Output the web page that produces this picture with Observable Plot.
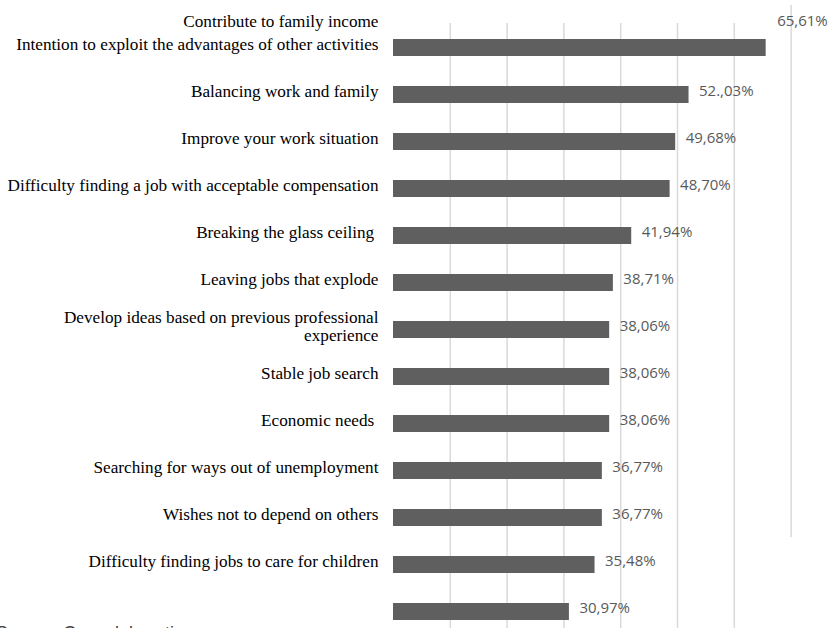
<!DOCTYPE html>
<html>
<head>
<meta charset="utf-8">
<script src="https://cdn.jsdelivr.net/npm/d3@7"></script>
<script src="https://cdn.jsdelivr.net/npm/@observablehq/plot@0.6"></script>
<style>
  html, body { margin: 0; padding: 0; background: #fff; overflow: hidden; width: 832px; height: 628px; }
  #chart { position: absolute; left: 0; top: 0; }
  #source { position: absolute; left: -4px; top: 624px; font-family: "Liberation Sans", sans-serif; font-size: 18px; line-height: 18px; color: #404040; white-space: nowrap; }
</style>
</head>
<body>
<div id="chart"></div>
<div id="source">Source: Own elaboration</div>
<script>
const categories = [
  "Contribute to family income",
  "Intention to exploit the advantages of other activities",
  "Balancing work and family",
  "Improve your work situation",
  "Difficulty finding a job with acceptable compensation",
  "Breaking the glass ceiling\u00a0",
  "Leaving jobs that explode",
  "Develop ideas based on previous professional\nexperience",
  "Stable job search",
  "Economic needs\u00a0",
  "Searching for ways out of unemployment",
  "Wishes not to depend on others",
  "Difficulty finding jobs to care for children"
];
const values = [65.61, 52.03, 49.68, 48.70, 41.94, 38.71, 38.06, 38.06, 38.06, 36.77, 36.77, 35.48, 30.97];
const valueLabels = ["65,61%", "52.,03%", "49,68%", "48,70%", "41,94%", "38,71%", "38,06%", "38,06%", "38,06%", "36,77%", "36,77%", "35,48%", "30,97%"];
const gridTicks = [10, 20, 30, 40, 50, 60, 70];

const rows = categories.map((c, i) => ({category: c, value: values[i], label: valueLabels[i]}));

const labelFont = {fontFamily: "Liberation Serif", fontSize: 17.2, fill: "#000", textAnchor: "end", lineHeight: 1.08};
const valueFont = {fontFamily: "Open Sans", fontSize: 15, fill: "#595959", textAnchor: "start"};

const chart = Plot.plot({
  width: 832,
  height: 628,
  marginLeft: 393,
  marginRight: 41.4,
  marginTop: 23,
  marginBottom: 0,
  style: {background: "#fff", overflow: "visible"},
  x: {domain: [0, 70], axis: null},
  y: {domain: categories, range: [23.8, 634.8], paddingInner: 0.645, paddingOuter: 0.3225, axis: null},
  marks: [
    Plot.ruleX(gridTicks.filter(t => t < 70), {stroke: "#d9d9d9", strokeWidth: 1.5}),
    Plot.ruleX(gridTicks.filter(t => t === 70), {stroke: "#d9d9d9", strokeWidth: 1.5, insetTop: -18, insetBottom: 91}),
    Plot.barX(rows, {x: "value", y: "category", fill: "#5f5f5f"}),
    Plot.text(rows.slice(0, 1), {x: "value", y: "category", text: "label", dx: 11, dy: -27, ...valueFont}),
    Plot.text(rows.slice(1), {x: "value", y: "category", text: "label", dx: 10, dy: -4, ...valueFont}),
    Plot.text(rows.slice(0, 1), {frameAnchor: "left", y: "category", text: "category", dx: -15, dy: -27, ...labelFont}),
    Plot.text(rows.slice(1), {frameAnchor: "left", y: "category", text: "category", dx: -15, dy: -51, ...labelFont})
  ]
});
document.getElementById("chart").appendChild(chart);
</script>
</body>
</html>
